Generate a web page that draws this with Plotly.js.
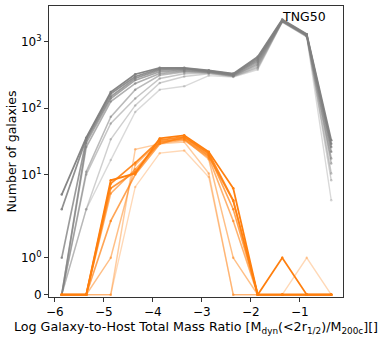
<!DOCTYPE html>
<html>
<head>
<meta charset="utf-8">
<script src="https://cdn.plot.ly/plotly-3.0.1.min.js"></script>
<style>
  body { margin: 0; background: #fff; }
  #chart { width: 381px; height: 340px; }
</style>
</head>
<body>
<div id="chart"></div>
<script>
// bin centres (log mass ratio)
var xBins = [-5.86, -5.36, -4.86, -4.36, -3.86, -3.36, -2.86, -2.36, -1.86, -1.36, -0.86, -0.36];

// all galaxies, darkest first
var gray1 = [5, 36, 175, 325, 406, 406, 372, 332, 594, 2170, 1306, 33];
var gray2 = [3, 35, 165, 300, 390, 398, 366, 326, 560, 2130, 1290, 29];
var gray3 = [1, 33, 150, 282, 375, 388, 360, 320, 530, 2100, 1275, 26];
var gray4 = [0, 30, 140, 265, 355, 375, 355, 316, 500, 2080, 1260, 22];
var gray5 = [0, 26, 126, 236, 332, 364, 350, 312, 470, 2060, 1245, 17.5];
var gray6 = [0, 11, 74, 190, 314, 350, 345, 308, 445, 2040, 1230, 14.7];
var gray7 = [0, 10, 59, 140, 281, 330, 340, 304, 420, 2020, 1215, 10.4];
var gray8 = [0, 3, 34, 110, 240, 300, 330, 300, 400, 2000, 1200, 8.2];
var gray9 = [0, 3, 16.5, 88, 190, 214, 310, 295, 380, 1980, 1190, 4.1];

// satellites, darkest first
var orange1 = [0, 0, 8.2, 10.4, 35, 39, 22, 6.2, 0, 1, 0, 0];
var orange2 = [0, 0, 7.3, 15, 33, 37, 21, 4.1, 0, 0, 0, 0];
var orange3 = [0, 0, 6.2, 11, 31, 35, 19, 4, 0, 0, 0, 0];
var orange4 = [0, 0, 2, 10, 29, 37, 20, 3, 0, 0, 0, 0];
var orange5 = [0, 0, 5.2, 12, 30, 33, 18, 2, 0, 0, 0, 0];
var orange6 = [0, 0, 1, 14, 32, 34, 17, 1, 0, 0, 0, 0];
var orange7 = [0, 0, 0, 24, 29, 31, 10.4, 0, 0, 0, 0, 0];
var orange8 = [0, 0, 0, 6.5, 21, 23, 9.2, 0, 0, 0, 1, 0];

var yTicks = [0, 1, 10, 100, 1000];
var yTickText = ["0", "10<sup>0</sup>", "10<sup>1</sup>", "10<sup>2</sup>", "10<sup>3</sup>"];

var grays = [gray1, gray2, gray3, gray4, gray5, gray6, gray7, gray8, gray9];
var oranges = [orange1, orange2, orange3, orange4, orange5, orange6, orange7, orange8];

// symlog like matplotlib (linthresh=2, linscale=1), in decades
function symlog(v) {
  var L = 2, s = 1 / (1 - 0.1);
  return v <= L ? v * s / L : s + Math.log10(v / L);
}

function makeTrace(vals, rgb, a, w) {
  return {
    x: xBins,
    y: vals.map(symlog),
    type: "scatter",
    mode: "lines+markers",
    line: {color: "rgba(" + rgb + "," + a + ")", width: w},
    marker: {color: "rgba(" + rgb + "," + a + ")", size: 2.5},
    hoverinfo: "skip"
  };
}

var data = [];
for (var i = grays.length - 1; i >= 0; i--) {
  var a = 0.3 + 0.65 * (grays.length - 1 - i) / (grays.length - 1);
  data.push(makeTrace(grays[i], "128,128,128", a.toFixed(2), 1.2 + 0.6 * a));
}
for (var j = oranges.length - 1; j >= 0; j--) {
  var b = 0.3 + 0.7 * (oranges.length - 1 - j) / (oranges.length - 1);
  data.push(makeTrace(oranges[j], "255,127,14", b.toFixed(2), 1.2 + 0.6 * b));
}

var layout = {
  width: 381,
  height: 340,
  margin: {l: 49, r: 38, t: 6, b: 43},
  paper_bgcolor: "#fff",
  plot_bgcolor: "#fff",
  showlegend: false,
  font: {family: "DejaVu Sans", size: 12, color: "#000"},
  xaxis: {
    range: [-6.12, -0.12],
    tickvals: [-6, -5, -4, -3, -2, -1],
    ticktext: ["\u22126", "\u22125", "\u22124", "\u22123", "\u22122", "\u22121"],
    ticks: "outside", ticklen: 4, tickcolor: "#333",
    showgrid: false, zeroline: false,
    showline: true, mirror: true, linecolor: "#333", linewidth: 1,
    tickfont: {size: 12},
    title: {text: "Log Galaxy-to-Host Total Mass Ratio [M<sub>dyn</sub>(&lt;2r<sub>1/2</sub>)/M<sub>200c</sub>][]", font: {size: 12.7}, standoff: 3}
  },
  yaxis: {
    range: [-0.035, 4.35],
    tickvals: yTicks.map(symlog),
    ticktext: yTickText,
    ticks: "outside", ticklen: 4, tickcolor: "#333",
    showgrid: false, zeroline: false,
    showline: true, mirror: true, linecolor: "#333", linewidth: 1,
    tickfont: {size: 12},
    title: {text: "Number of galaxies", font: {size: 12.5}, standoff: 1}
  },
  annotations: [{
    xref: "paper", yref: "paper",
    x: 0.95, y: 0.965, xanchor: "right", yanchor: "middle",
    text: "TNG50", showarrow: false,
    font: {size: 12.5, color: "#000"}
  }]
};

Plotly.newPlot("chart", data, layout, {staticPlot: true});
</script>
</body>
</html>
